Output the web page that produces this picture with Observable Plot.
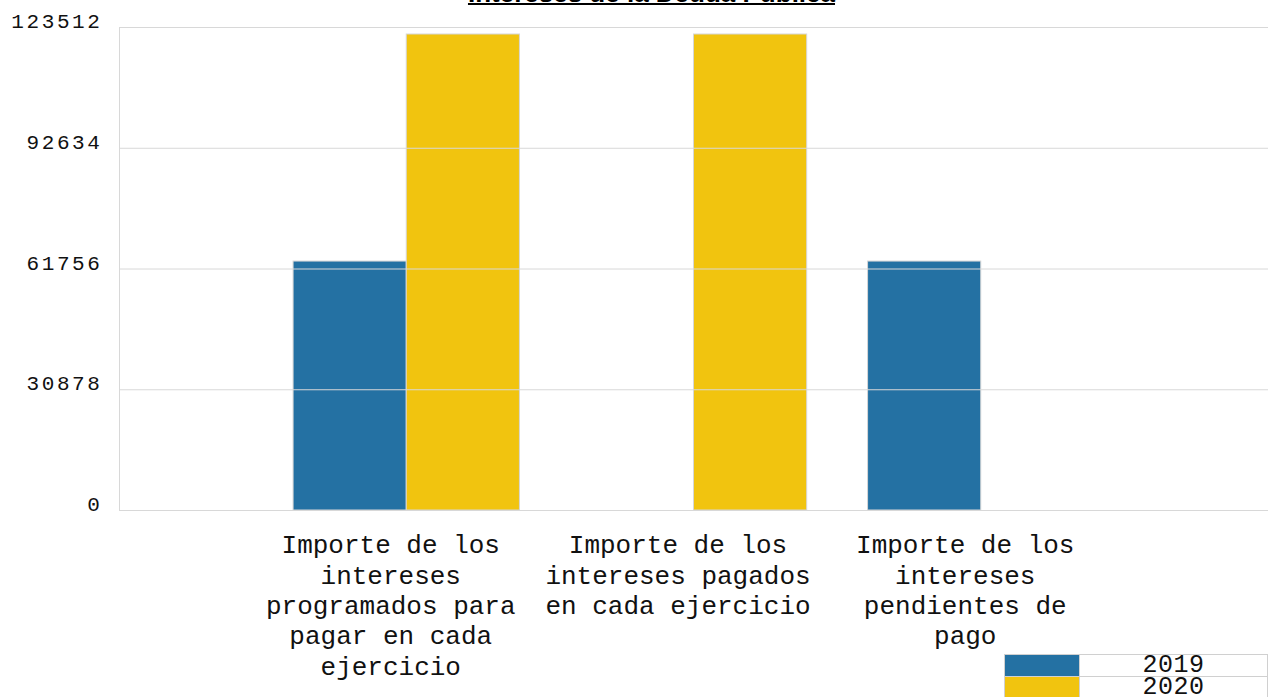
<!DOCTYPE html>
<html>
<head>
<meta charset="utf-8">
<script src="https://cdn.jsdelivr.net/npm/d3@7"></script>
<script src="https://cdn.jsdelivr.net/npm/@observablehq/plot@0.6"></script>
<style>
  html, body { margin: 0; padding: 0; background: #fff; }
  body { position: relative; width: 1268px; height: 697px; overflow: hidden; }
  #title {
    position: absolute; left: 0; width: 1303px; top: -20px; text-align: center;
    font-family: "Liberation Sans", Arial, sans-serif; font-weight: bold; font-size: 26px;
    line-height: 1; text-decoration: underline; text-decoration-thickness: 2px; color: #000;
    z-index: 2;
  }
  #chart { position: absolute; left: 0; top: 0; }
  #legend {
    position: absolute; left: 1004px; top: 654px; border-collapse: collapse;
    font-family: "Liberation Mono", "Courier New", monospace; font-size: 25px; color: #111;
  }
  #legend td { border: 1px solid #d0d0d0; padding: 0; height: 21px; line-height: 21px; }
  #legend td.sw { width: 74px; }
  #legend td.lb { width: 187px; text-align: center; letter-spacing: 0.5px; }
  g[aria-label="y-axis tick label"] text { letter-spacing: 2.6px; }
  g[aria-label="text"], g[aria-label="text"] text { font-family: "Liberation Mono", "Courier New", monospace; }
</style>
</head>
<body>
<div id="chart"></div>
<div id="title">Intereses de la Deuda Pública</div>
<table id="legend"></table>
<script>
const categories = [
  "Importe de los intereses programados para pagar en cada ejercicio",
  "Importe de los intereses pagados en cada ejercicio",
  "Importe de los intereses pendientes de pago"
];
const seriesNames = ["2019", "2020"];
const values2019 = [63660, 0, 63660];
const values2020 = [121720, 121720, 0];
const seriesColors = ["#2471a3", "#f1c40f"];
const yTicks = [0, 30878, 61756, 92634, 123512];

const seriesValues = [values2019, values2020];
const rows = [];
categories.forEach((c, i) => {
  seriesNames.forEach((s, si) => {
    rows.push({category: c, idx: i + 1, series: s, si, value: seriesValues[si][i]});
  });
});

// greedy word wrap by character count (monospace labels)
function wrap(text, maxChars) {
  const lines = [];
  let line = "";
  for (const w of text.split(" ")) {
    const next = line ? line + " " + w : w;
    if (next.length > maxChars && line) { lines.push(line); line = w; }
    else line = next;
  }
  if (line) lines.push(line);
  return lines.join("\n");
}

const half = 0.394;
const mono = "'Liberation Mono', 'Courier New', monospace";

const plot = Plot.plot({
  width: 1268,
  height: 697,
  marginLeft: 119,
  marginRight: 0,
  marginTop: 27,
  marginBottom: 187,
  style: {fontFamily: mono, background: "#fff", color: "#111"},
  x: {type: "linear", domain: [0, categories.length + 1], axis: null},
  y: {domain: [0, yTicks[yTicks.length - 1]], axis: null},
  color: {domain: seriesNames, range: seriesColors},
  marks: [
    Plot.rectY(rows, {
      x1: d => d.idx + (d.si - 1) * half,
      x2: d => d.idx + d.si * half,
      y1: 0,
      y2: "value",
      fill: "series",
      stroke: "#d6d6d6",
      strokeWidth: 1
    }),
    Plot.ruleY(yTicks, {stroke: "#d8d8d8", strokeWidth: 1}),
    Plot.ruleX([0], {stroke: "#d8d8d8", strokeWidth: 1}),
    Plot.axisY({
      ticks: yTicks,
      tickSize: 0,
      tickPadding: 17,
      tickFormat: d => String(d),
      label: null,
      fontSize: 21,
      fontFamily: mono,
      dy: -6,
      fill: "#111"
    }),
    Plot.text(categories, {
      x: (d, i) => i + 1,
      text: d => wrap(d, 17),
      frameAnchor: "bottom",
      lineAnchor: "top",
      dy: 21,
      dx: -16,
      fontFamily: mono,
      fontSize: 26,
      lineHeight: 1.17,
      fill: "#111"
    })
  ]
});
document.getElementById("chart").appendChild(plot);

const legend = d3.select("#legend");
seriesNames.forEach((s, i) => {
  const tr = legend.append("tr");
  tr.append("td").attr("class", "sw").style("background", seriesColors[i]);
  tr.append("td").attr("class", "lb").text(s);
});
</script>
</body>
</html>
